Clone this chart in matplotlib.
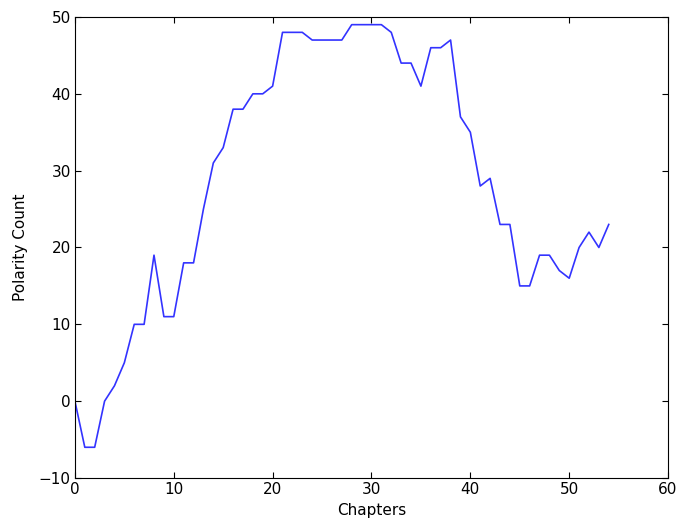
# Polarity count per chapter

import numpy as np
import matplotlib
matplotlib.use('Agg')
import matplotlib.pyplot as plt

# running polarity count at each chapter
chapters = np.arange(0, 55)
polarity = [0, -6, -6, 0, 2, 5, 10, 10, 19, 11,
            11, 18, 18, 25, 31, 33, 38, 38, 40, 40,
            41, 48, 48, 48, 47, 47, 47, 47, 49, 49,
            49, 49, 48, 44, 44, 41, 46, 46, 47, 37,
            35, 28, 29, 23, 23, 15, 15, 19, 19, 17,
            16, 20, 22, 20, 23]

plt.rcParams['font.family'] = 'DejaVu Sans'
fig = plt.figure(figsize=(6.81, 5.29), dpi=100)
ax = fig.add_axes([0.110, 0.0964, 0.871, 0.8715])
ax.plot(chapters, polarity, color='#0000ff', linewidth=1.2, alpha=0.8)

ax.set_xlim(0, 60)
ax.set_ylim(-10, 50)
ax.set_xticks(np.arange(0, 61, 10))
ax.set_yticks(np.arange(-10, 51, 10))
ax.tick_params(direction='in', top=True, right=True, length=4, labelsize=11, pad=3)
ax.set_xlabel('Chapters', fontsize=11)
ax.set_ylabel('Polarity Count', fontsize=11, labelpad=8)

plt.savefig('out.png', dpi=100)
